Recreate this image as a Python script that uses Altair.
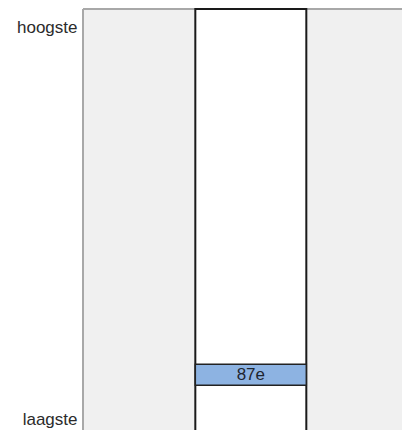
import altair as alt
import pandas as pd

# data
category = ["score"]
rank = [87]
total_ranks = [100]
rank_label = ["87e"]
axis_labels = ["hoogste", "laagste"]

total = total_ranks[0]
col_df = pd.DataFrame({"cat": category, "start": [1], "end": [total + 1]})
bar_df = pd.DataFrame({"cat": category, "rank": rank, "label": rank_label})

FONT = "Liberation Sans"
W, H = 319, 421

xscale = alt.Scale(domain=category, paddingInner=0, paddingOuter=0.937, align=0.54)
yscale = alt.Scale(domain=[1, total], reverse=True, nice=False, zero=False)

label_expr = f"datum.value == 1 ? '{axis_labels[0]}' : '{axis_labels[1]}'"

frame_top = alt.Chart(col_df).mark_rule(color="#a8a8a8", strokeWidth=2).encode(
    x=alt.value(0), x2=alt.value(W), y=alt.value(0)
)
frame_left = alt.Chart(col_df).mark_rule(color="#a8a8a8", strokeWidth=2).encode(
    x=alt.value(0), y=alt.value(0), y2=alt.value(H)
)

column = alt.Chart(col_df).mark_rect(fill="white", stroke="#1a1a1a", strokeWidth=2).encode(
    x=alt.X("cat:N", scale=xscale, axis=None),
    y=alt.Y("start:Q", scale=yscale,
            axis=alt.Axis(values=[1, total], labelExpr=label_expr, title=None,
                          domain=False, ticks=False, grid=False,
                          labelFont=FONT, labelFontSize=17, labelColor="#2b2b2b",
                          labelPadding=6,
                          labelOffset={"condition": {"test": "datum.value == 1", "value": 18}, "value": -11})),
    y2="end:Q",
)

bar = alt.Chart(bar_df).mark_tick(thickness=21, size=111, color="#8db3e2", stroke="#222222",
                                  strokeWidth=1.5, opacity=1).encode(
    x=alt.X("cat:N", scale=xscale, axis=None),
    y=alt.Y("rank:Q", scale=yscale),
)

text = alt.Chart(bar_df).mark_text(font=FONT, fontSize=17, color="#1e2530", baseline="middle").encode(
    x=alt.X("cat:N", scale=xscale, axis=None),
    y=alt.Y("rank:Q", scale=yscale),
    text="label:N",
)

chart = alt.layer(frame_top, frame_left, column, bar, text).properties(
    width=W, height=H,
    autosize=alt.AutoSizeParams(type="none"),
    padding={"left": 75, "top": 1, "right": 0, "bottom": 0},
    background="white",
).configure_view(
    fill="#f0f0f0", stroke=None
)

chart.save("out.html", embed_options={"renderer": "svg", "actions": False})
